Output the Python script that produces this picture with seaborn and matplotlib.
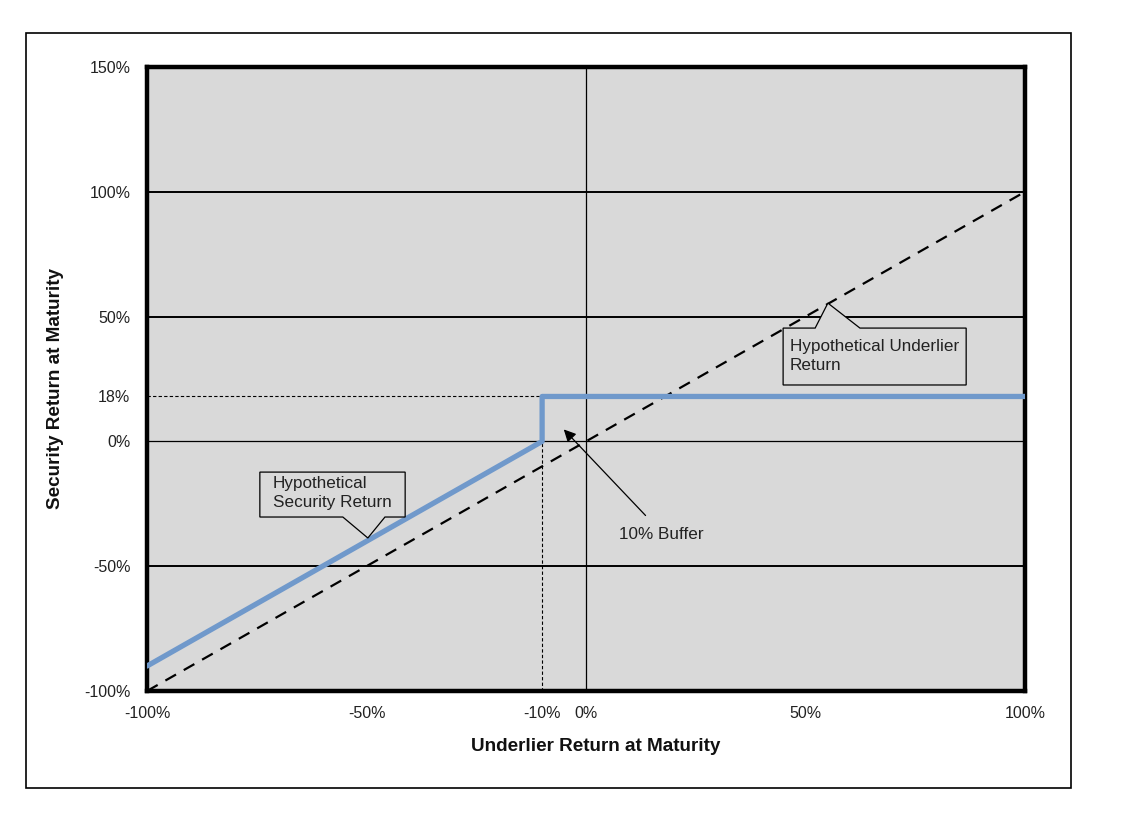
import matplotlib
matplotlib.use("Agg")
import matplotlib.pyplot as plt
import seaborn as sns
import pandas as pd
from matplotlib.patches import Rectangle, Polygon
from matplotlib.ticker import FuncFormatter

sns.set_style("white")
plt.rcParams['font.family'] = ['Liberation Sans', 'DejaVu Sans']

# Data
underlier_x = [-100, 100]
underlier_y = [-100, 100]
security_x = [-100, -10, -10, 100]
security_y = [-90, 0, 18, 18]
buffer_level = -10
cap_level = 18
x_ticks = [-100, -50, -10, 0, 50, 100]
y_ticks = [-100, -50, 0, 18, 50, 100, 150]
grid_levels = [-50, 50, 100]

fig = plt.figure(figsize=(11.25, 8.19), dpi=100)
fig.patches.append(Rectangle((0.0231, 0.0379), 0.9289, 0.9218, transform=fig.transFigure,
                             fill=False, edgecolor='black', linewidth=1.2))
ax = fig.add_axes([0.1307, 0.1563, 0.7804, 0.7619])
ax.set_facecolor('#d9d9d9')

ax.set_xlim(-100, 100)
ax.set_ylim(-100, 150)

for g in grid_levels:
    ax.axhline(g, color='black', linewidth=1.4, zorder=1)
ax.axhline(0, color='black', linewidth=0.9, zorder=1)
ax.axvline(0, color='black', linewidth=0.9, zorder=1)

# dotted reference lines
ax.plot([x_ticks[0], buffer_level], [cap_level, cap_level], color='black',
        linestyle=(0, (3, 2)), linewidth=0.8, zorder=2)
ax.plot([buffer_level, buffer_level], [y_ticks[0], 0], color='black',
        linestyle=(0, (3, 2)), linewidth=0.8, zorder=2)

df_u = pd.DataFrame({'x': underlier_x, 'y': underlier_y})
df_s = pd.DataFrame({'x': security_x, 'y': security_y})
sns.lineplot(data=df_u, x='x', y='y', ax=ax, color='black', linewidth=1.6,
             linestyle=(0, (5.5, 4)), sort=False, estimator=None, zorder=3)
sns.lineplot(data=df_s, x='x', y='y', ax=ax, color='#7099cb', linewidth=3.8,
             sort=False, estimator=None, zorder=4)

ax.set_xticks(x_ticks)
ax.set_yticks(y_ticks)
fmt = FuncFormatter(lambda v, p: f"{int(v)}%")
ax.xaxis.set_major_formatter(fmt)
ax.yaxis.set_major_formatter(fmt)
ax.tick_params(axis='both', labelsize=11.5, length=0, colors='#222222')
ax.tick_params(axis='y', pad=12)
ax.tick_params(axis='x', pad=11)
ax.set_xlabel('Underlier Return at Maturity', fontsize=13.6, fontweight='bold',
              color='#111111')
ax.set_ylabel('Security Return at Maturity', fontsize=13.6, fontweight='bold',
              color='#111111')
ax.xaxis.set_label_coords(0.511, -0.076)
ax.yaxis.set_label_coords(-0.095, 0.484)

for s in ax.spines.values():
    s.set_linewidth(3.2)
    s.set_color('black')
    s.set_visible(True)

# Callout: Hypothetical Underlier Return
und_box = [(44.9, 45.4), (52.2, 45.4), (55.1, 55.4), (62.4, 45.4), (86.6, 45.4),
           (86.6, 22.6), (44.9, 22.6)]
ax.add_patch(Polygon(und_box, closed=True, facecolor='#d9d9d9', edgecolor='black',
                     linewidth=0.9, zorder=5))
ax.text(46.4, 41.0, 'Hypothetical Underlier\nReturn', fontsize=12.3, va='top', ha='left',
        zorder=6, linespacing=1.3, color='#222222')

# Callout: Hypothetical Security Return
sec_box = [(-74.3, -12.3), (-41.2, -12.3), (-41.2, -30.3), (-45.8, -30.3),
           (-49.7, -38.7), (-55.4, -30.3), (-74.3, -30.3)]
ax.add_patch(Polygon(sec_box, closed=True, facecolor='#d9d9d9', edgecolor='black',
                     linewidth=0.9, zorder=5))
ax.text(-71.3, -14.0, 'Hypothetical\nSecurity Return', fontsize=12.3, va='top', ha='left',
        zorder=6, linespacing=1.3, color='#222222')

# 10% Buffer arrow
ax.annotate('', xy=(-5.5, 5.6), xytext=(14.0, -30.5),
            arrowprops=dict(arrowstyle='-|>', color='black', lw=0.9, mutation_scale=18),
            zorder=6)
ax.text(7.6, -37.5, '10% Buffer', fontsize=12.3, va='center', ha='left', zorder=6,
        color='#222222')

fig.savefig('out.png', dpi=100)
